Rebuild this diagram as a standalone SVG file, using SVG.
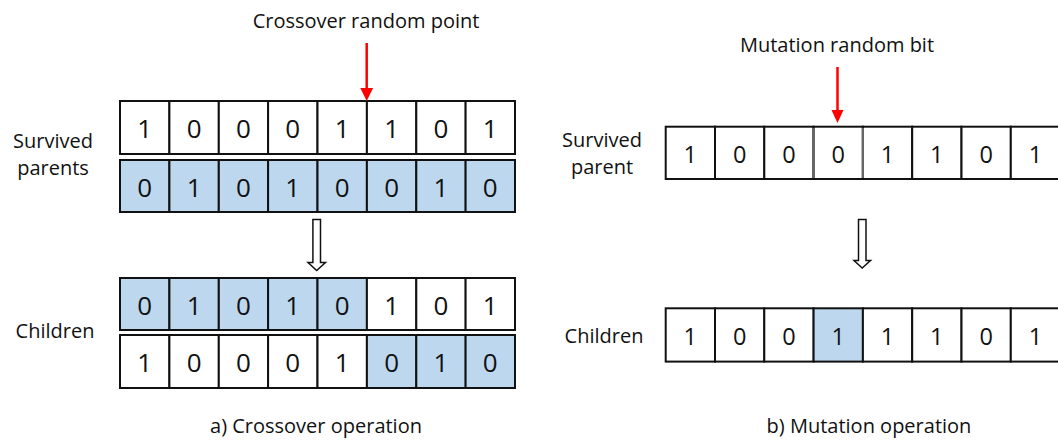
<svg xmlns="http://www.w3.org/2000/svg" width="1058" height="440" viewBox="0 0 1058 440">
  <style>
    .cell { fill: #ffffff; stroke: #111111; stroke-width: 2; }
    .hi { fill: #bdd7ee; }
    .bit { font-family: "Open Sans", "Noto Sans", sans-serif; font-size: 26px; fill: #111111; text-anchor: middle; }
    .bit-s { font-size: 23.5px; }
    .lbl { font-family: "Open Sans", "Noto Sans", sans-serif; font-size: 20px; fill: #111111; text-anchor: middle; }
    .red { stroke: #ff0000; stroke-width: 2.5; fill: none; }
    .redhead { fill: #ff0000; }
    .hollow { fill: #ffffff; stroke: #111111; stroke-width: 1.5; stroke-linejoin: miter; }
  </style>

  <!-- a) Crossover -->
  <g id="crossover-title">
    <text class="lbl" x="366" y="28">Crossover random point</text>
  </g>
  <g id="label-survived-parents">
    <text class="lbl" x="53" y="148">Survived</text>
    <text class="lbl" x="53" y="175">parents</text>
  </g>
  <g id="label-children-a">
    <text class="lbl" x="55" y="338">Children</text>
  </g>

  <g id="parent-1">
    <rect class="cell" x="120" y="101" width="49.4" height="53"/>
    <rect class="cell" x="169.4" y="101" width="49.4" height="53"/>
    <rect class="cell" x="218.8" y="101" width="49.4" height="53"/>
    <rect class="cell" x="268.1" y="101" width="49.4" height="53"/>
    <rect class="cell" x="317.5" y="101" width="49.4" height="53"/>
    <rect class="cell" x="366.9" y="101" width="49.4" height="53"/>
    <rect class="cell" x="416.3" y="101" width="49.4" height="53"/>
    <rect class="cell" x="465.6" y="101" width="49.4" height="53"/>
    <text class="bit" y="138"><tspan x="144.7">1</tspan><tspan x="194.1">0</tspan><tspan x="243.5">0</tspan><tspan x="292.8">0</tspan><tspan x="342.2">1</tspan><tspan x="391.6">1</tspan><tspan x="441">0</tspan><tspan x="490.3">1</tspan></text>
  </g>

  <g id="parent-2">
    <rect class="cell hi" x="120" y="160" width="49.4" height="52"/>
    <rect class="cell hi" x="169.4" y="160" width="49.4" height="52"/>
    <rect class="cell hi" x="218.8" y="160" width="49.4" height="52"/>
    <rect class="cell hi" x="268.1" y="160" width="49.4" height="52"/>
    <rect class="cell hi" x="317.5" y="160" width="49.4" height="52"/>
    <rect class="cell hi" x="366.9" y="160" width="49.4" height="52"/>
    <rect class="cell hi" x="416.3" y="160" width="49.4" height="52"/>
    <rect class="cell hi" x="465.6" y="160" width="49.4" height="52"/>
    <text class="bit" y="197"><tspan x="144.7">0</tspan><tspan x="194.1">1</tspan><tspan x="243.5">0</tspan><tspan x="292.8">1</tspan><tspan x="342.2">0</tspan><tspan x="391.6">0</tspan><tspan x="441">1</tspan><tspan x="490.3">0</tspan></text>
  </g>

  <g id="child-1">
    <rect class="cell hi" x="120" y="278" width="49.4" height="52"/>
    <rect class="cell hi" x="169.4" y="278" width="49.4" height="52"/>
    <rect class="cell hi" x="218.8" y="278" width="49.4" height="52"/>
    <rect class="cell hi" x="268.1" y="278" width="49.4" height="52"/>
    <rect class="cell hi" x="317.5" y="278" width="49.4" height="52"/>
    <rect class="cell" x="366.9" y="278" width="49.4" height="52"/>
    <rect class="cell" x="416.3" y="278" width="49.4" height="52"/>
    <rect class="cell" x="465.6" y="278" width="49.4" height="52"/>
    <text class="bit" y="315"><tspan x="144.7">0</tspan><tspan x="194.1">1</tspan><tspan x="243.5">0</tspan><tspan x="292.8">1</tspan><tspan x="342.2">0</tspan><tspan x="391.6">1</tspan><tspan x="441">0</tspan><tspan x="490.3">1</tspan></text>
  </g>

  <g id="child-2">
    <rect class="cell" x="120" y="335" width="49.4" height="53"/>
    <rect class="cell" x="169.4" y="335" width="49.4" height="53"/>
    <rect class="cell" x="218.8" y="335" width="49.4" height="53"/>
    <rect class="cell" x="268.1" y="335" width="49.4" height="53"/>
    <rect class="cell" x="317.5" y="335" width="49.4" height="53"/>
    <rect class="cell hi" x="366.9" y="335" width="49.4" height="53"/>
    <rect class="cell hi" x="416.3" y="335" width="49.4" height="53"/>
    <rect class="cell hi" x="465.6" y="335" width="49.4" height="53"/>
    <text class="bit" y="372"><tspan x="144.7">1</tspan><tspan x="194.1">0</tspan><tspan x="243.5">0</tspan><tspan x="292.8">0</tspan><tspan x="342.2">1</tspan><tspan x="391.6">0</tspan><tspan x="441">1</tspan><tspan x="490.3">0</tspan></text>
  </g>

  <g id="caption-a">
    <text class="lbl" x="316" y="433">a) Crossover operation</text>
  </g>

  <!-- b) Mutation -->
  <g id="mutation-title">
    <text class="lbl" x="837" y="52">Mutation random bit</text>
  </g>
  <g id="label-survived-parent">
    <text class="lbl" x="602" y="147">Survived</text>
    <text class="lbl" x="602" y="174">parent</text>
  </g>
  <g id="label-children-b">
    <text class="lbl" x="604" y="343">Children</text>
  </g>

  <g id="parent-m">
    <rect class="cell" x="665.7" y="126.7" width="49.3" height="52.3"/>
    <rect class="cell" x="715" y="126.7" width="49.3" height="52.3"/>
    <rect class="cell" x="764.3" y="126.7" width="49.3" height="52.3"/>
    <rect class="cell" x="813.6" y="126.7" width="49.3" height="52.3"/>
    <rect class="cell" x="862.9" y="126.7" width="49.3" height="52.3"/>
    <rect class="cell" x="912.2" y="126.7" width="49.3" height="52.3"/>
    <rect class="cell" x="961.5" y="126.7" width="49.3" height="52.3"/>
    <rect class="cell" x="1010.8" y="126.7" width="49.3" height="52.3"/>
    <!-- selected bit: softer side borders -->
    <line x1="813.6" y1="128" x2="813.6" y2="178" stroke="#666666" stroke-width="2.2"/>
    <line x1="862.9" y1="128" x2="862.9" y2="178" stroke="#666666" stroke-width="2.2"/>
    <text class="bit bit-s" y="163"><tspan x="690.3">1</tspan><tspan x="739.6">0</tspan><tspan x="788.9">0</tspan><tspan x="838.2">0</tspan><tspan x="887.5">1</tspan><tspan x="936.8">1</tspan><tspan x="986.1">0</tspan><tspan x="1035.4">1</tspan></text>
  </g>

  <g id="child-m">
    <rect class="cell" x="665.7" y="308.3" width="49.3" height="53.3"/>
    <rect class="cell" x="715" y="308.3" width="49.3" height="53.3"/>
    <rect class="cell" x="764.3" y="308.3" width="49.3" height="53.3"/>
    <rect class="cell hi" x="813.6" y="308.3" width="49.3" height="53.3"/>
    <rect class="cell" x="862.9" y="308.3" width="49.3" height="53.3"/>
    <rect class="cell" x="912.2" y="308.3" width="49.3" height="53.3"/>
    <rect class="cell" x="961.5" y="308.3" width="49.3" height="53.3"/>
    <rect class="cell" x="1010.8" y="308.3" width="49.3" height="53.3"/>
    <text class="bit bit-s" y="345"><tspan x="690.3">1</tspan><tspan x="739.6">0</tspan><tspan x="788.9">0</tspan><tspan x="838.2">1</tspan><tspan x="887.5">1</tspan><tspan x="936.8">1</tspan><tspan x="986.1">0</tspan><tspan x="1035.4">1</tspan></text>
  </g>

  <g id="caption-b">
    <text class="lbl" x="869" y="433">b) Mutation operation</text>
  </g>

  <!-- arrows -->
  <g id="connectors">
    <line class="red" x1="366.7" y1="43" x2="366.7" y2="89"/>
    <polygon class="redhead" points="360.3,88 373.1,88 366.7,101"/>
    <line class="red" x1="837.5" y1="67" x2="837.5" y2="111"/>
    <polygon class="redhead" points="831.5,110 843.5,110 837.5,123"/>
    <polygon class="hollow" points="312.9,219.5 320.5,219.5 320.5,262.5 325.5,262.5 316.7,270.5 308,262.5 312.9,262.5"/>
    <polygon class="hollow" points="858.5,219.5 866,219.5 866,260.5 870.5,260.5 862.2,268 854,260.5 858.5,260.5"/>
  </g>
</svg>
